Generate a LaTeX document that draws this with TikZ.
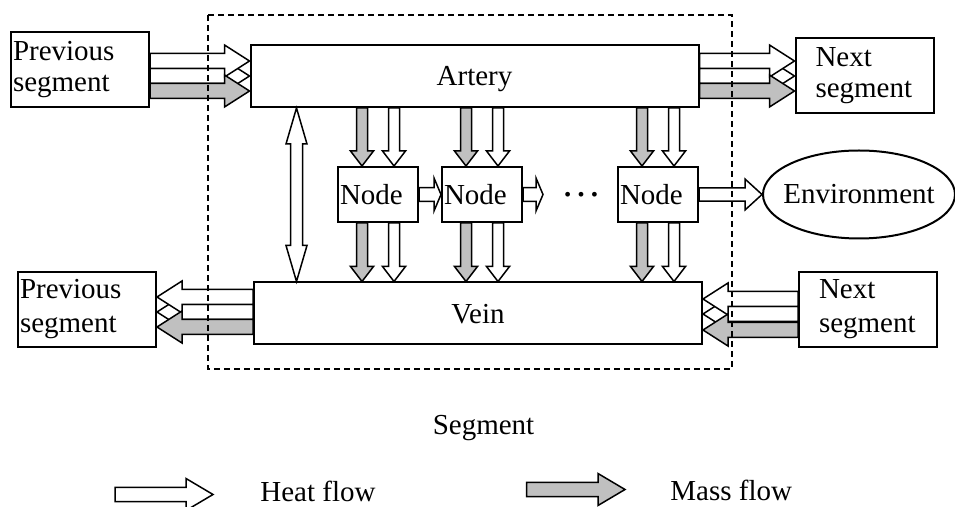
\documentclass[tikz,border=0pt]{standalone}
\usepackage{fontspec}
\setmainfont{Liberation Serif}
\usetikzlibrary{calc,positioning,shapes.geometric}
\definecolor{massgray}{RGB}{192,192,192}
\tikzset{
  flow shaft/.store in=\flowshaft, flow head/.store in=\flowhead, flow tip/.store in=\flowtip,
  flow shaft=3.75pt, flow head=8pt, flow tip=12.5pt,
  flowline/.style={draw, line width=0.75pt, to path={
    let \p1=(\tikztostart), \p2=(\tikztotarget),
        \n1={atan2(\y2-\y1,\x2-\x1)}, \n2={veclen(\x2-\x1,\y2-\y1)} in
    {[shift={(\p1)}, rotate=\n1]
      (0pt,-\flowshaft) -- ({\n2-\flowtip},-\flowshaft) -- ({\n2-\flowtip},-\flowhead)
      -- ({\n2+0pt},0pt) -- ({\n2-\flowtip},\flowhead) -- ({\n2-\flowtip},\flowshaft)
      -- (0pt,\flowshaft) -- cycle}}},
  flowboth/.style={draw, line width=0.75pt, fill=white, flow shaft=3pt, flow head=5.25pt, flow tip=18pt, to path={
    let \p1=(\tikztostart), \p2=(\tikztotarget),
        \n1={atan2(\y2-\y1,\x2-\x1)}, \n2={veclen(\x2-\x1,\y2-\y1)} in
    {[shift={(\p1)}, rotate=\n1]
      (0pt,0pt) -- (\flowtip,\flowhead) -- (\flowtip,\flowshaft) -- ({\n2-\flowtip},\flowshaft)
      -- ({\n2-\flowtip},\flowhead) -- ({\n2+0pt},0pt) -- ({\n2-\flowtip},-\flowhead)
      -- ({\n2-\flowtip},-\flowshaft) -- (\flowtip,-\flowshaft) -- (\flowtip,-\flowhead) -- cycle}}},
  heat/.style={flowline, fill=white},
  mass/.style={flowline, fill=massgray},
  vflow/.style={flow shaft=2.75pt, flow head=5.75pt, flow tip=7.5pt},
  hflow/.style={flow shaft=3.4pt, flow head=8.25pt, flow tip=3.5pt},
  envflow/.style={flow shaft=3.3pt, flow head=7.75pt, flow tip=8.5pt},
  legendflow/.style={flow shaft=3.6pt, flow head=8pt, flow tip=13.5pt},
  segbox/.style={draw, line width=1pt, minimum width=69pt, minimum height=37.5pt, inner xsep=1pt, align=left},
  vesselbox/.style={draw, line width=1pt, minimum width=224pt, minimum height=31pt, text depth=0pt},
  unitbox/.style={draw, line width=1pt, minimum width=40pt, minimum height=27.5pt, inner xsep=1pt, text width=38pt, align=left},
  envnode/.style={draw, ellipse, line width=1pt, minimum width=96pt, minimum height=44pt, inner xsep=-5.5pt, inner ysep=0pt},
  lbl/.style={inner sep=0pt},
  segframe/.style={draw, line width=0.75pt, dash pattern=on 3pt off 2pt}
}
\begin{document}
\begin{tikzpicture}[x=0.5pt, y=-0.5pt, font=\fontsize{14.5}{15.5}\selectfont]
\useasboundingbox (0,0) rectangle (955,507);
\node[vesselbox] (artery) at (474.5,76) {Artery};
\node[vesselbox] (vein) at (478,313.5) {Vein};
\node[segbox, text width=67pt] (prevA) at (80,69.5) {Previous\\segment};
\node[segbox, text width=49pt] (nextA) at (864.5,75.5) {Next\\segment};
\node[segbox, text width=67pt, font=\fontsize{14.5}{17}\selectfont] (prevB) at (87,309.5) {Previous\\segment};
\node[segbox, text width=49pt, font=\fontsize{14.5}{17}\selectfont] (nextB) at (868,309.5) {Next\\segment};
\node[unitbox] (node1) at (378,194.5) {Node};
\node[unitbox, right=11pt of node1] (node2) {Node};
\node[unitbox] (node3) at (658,194.5) {Node};
\node[lbl, font=\fontsize{20}{20}\selectfont] (dots) at (581.5,194.5) {…};
\coordinate (gap) at (543,194.5);
\node[envnode] (env) at (859,194.5) {Environment};
\draw[heat] (artery.west -| prevA.east) to (artery.west);
\draw[heat] ([yshift=7.5pt]artery.west -| prevA.east) to ([yshift=7.5pt]artery.west);
\draw[mass] ([yshift=-7.5pt]artery.west -| prevA.east) to ([yshift=-7.5pt]artery.west);
\draw[heat] (artery.east) to (artery.east -| nextA.west);
\draw[heat] ([yshift=7.5pt]artery.east) to ([yshift=7.5pt]artery.east -| nextA.west);
\draw[mass] ([yshift=-7.5pt]artery.east) to ([yshift=-7.5pt]artery.east -| nextA.west);
\draw[heat] ([yshift=0.75pt]vein.west) to ([yshift=0.75pt]vein.west -| prevB.east);
\draw[heat] ([yshift=8.25pt]vein.west) to ([yshift=8.25pt]vein.west -| prevB.east);
\draw[mass] ([yshift=-6.75pt]vein.west) to ([yshift=-6.75pt]vein.west -| prevB.east);
\draw[heat] ([yshift=-0.25pt]vein.east -| nextB.west) to ([yshift=-0.25pt]vein.east);
\draw[heat] ([yshift=7.25pt]vein.east -| nextB.west) to ([yshift=7.25pt]vein.east);
\draw[mass] ([yshift=-8.25pt]vein.east -| nextB.west) to ([yshift=-8.25pt]vein.east);
\draw[flowboth] ([xshift=23.5pt]artery.south west) to ([xshift=23.5pt]artery.south west |- vein.north);
\draw[mass, vflow] ([xshift=-8pt]node1.north |- artery.south) to ([xshift=-8pt]node1.north);
\draw[heat, vflow] ([xshift=8pt]node1.north |- artery.south) to ([xshift=8pt]node1.north);
\draw[mass, vflow] ([xshift=-8pt]node2.north |- artery.south) to ([xshift=-8pt]node2.north);
\draw[heat, vflow] ([xshift=8pt]node2.north |- artery.south) to ([xshift=8pt]node2.north);
\draw[mass, vflow] ([xshift=-8pt]node3.north |- artery.south) to ([xshift=-8pt]node3.north);
\draw[heat, vflow] ([xshift=8pt]node3.north |- artery.south) to ([xshift=8pt]node3.north);
\draw[mass, vflow] ([xshift=-8pt]node1.south) to ([xshift=-8pt]node1.south |- vein.north);
\draw[heat, vflow] ([xshift=8pt]node1.south) to ([xshift=8pt]node1.south |- vein.north);
\draw[mass, vflow] ([xshift=-8pt]node2.south) to ([xshift=-8pt]node2.south |- vein.north);
\draw[heat, vflow] ([xshift=8pt]node2.south) to ([xshift=8pt]node2.south |- vein.north);
\draw[mass, vflow] ([xshift=-8pt]node3.south) to ([xshift=-8pt]node3.south |- vein.north);
\draw[heat, vflow] ([xshift=8pt]node3.south) to ([xshift=8pt]node3.south |- vein.north);
\draw[heat, hflow] (node1.east) to (node2.west);
\draw[heat, hflow] (node2.east) to (gap);
\draw[heat, envflow] (node3.east) to (env.west);
\draw[segframe] (208,15) rectangle (732,369);
\node[lbl, anchor=base] (seglbl) at (483.5,435) {Segment};
\coordinate (heatA) at (115,494.5);
\coordinate (heatB) at (213,494.5);
\draw[heat, legendflow] (heatA) to (heatB);
\node[lbl, anchor=base west] (heatlbl) at (260,501.7) {Heat flow};
\coordinate (massA) at (526.7,489.5);
\coordinate (massB) at (625,489.5);
\draw[mass, legendflow] (massA) to (massB);
\node[lbl, anchor=base west] (masslbl) at (670,501) {Mass flow};
\end{tikzpicture}
\end{document}
